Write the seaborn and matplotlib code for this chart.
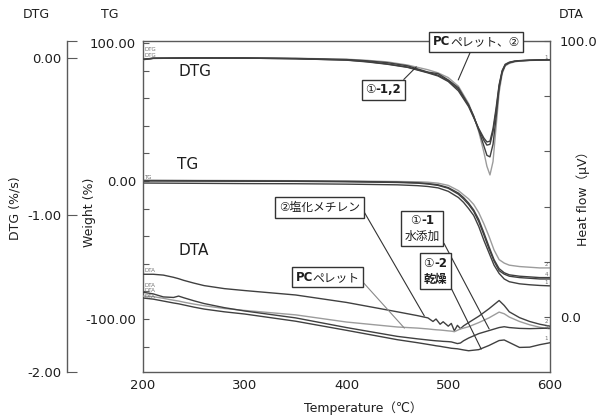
import matplotlib
matplotlib.use("Agg")
import matplotlib.pyplot as plt
from matplotlib.ticker import FixedLocator, FormatStrFormatter
from matplotlib.offsetbox import TextArea, HPacker, VPacker, AnnotationBbox
import seaborn as sns

# ---- data ----
# TG (weight %)
temp_tg = [200, 250, 300, 350, 400, 450, 470, 480, 490, 500, 510, 515, 520,
           525, 530, 535, 540, 545, 550, 555, 560, 570, 580, 590, 600]
tg_a = [0.5, 0.4, 0.3, 0.2, 0.0, -0.4, -0.6, -0.9, -1.6, -3.2, -7.0, -10.0, -13.0,
        -17.0, -23.0, -31.0, -40.0, -50.0, -57.0, -59.5, -61.0, -62.0, -62.5, -63.0, -63.0]
tg_b = [0.3, 0.2, 0.1, 0.0, -0.3, -0.8, -1.3, -1.9, -2.8, -4.8, -8.8, -12.0, -16.0,
        -21.0, -28.0, -37.5, -47.5, -57.0, -63.5, -66.5, -68.0, -69.0, -69.5, -70.0, -70.0]
tg_c = [0.0, -0.1, -0.2, -0.3, -0.6, -1.1, -1.6, -2.2, -3.2, -5.3, -9.6, -13.0, -17.0,
        -22.0, -29.5, -39.0, -49.0, -58.0, -65.0, -67.5, -69.0, -70.0, -70.5, -71.0, -71.0]
tg_d = [-1.5, -1.7, -1.9, -2.0, -2.3, -2.8, -3.4, -4.0, -5.0, -7.5, -12.0, -15.5, -20.0,
        -25.0, -33.0, -43.0, -52.0, -61.0, -67.0, -71.0, -73.0, -74.5, -75.2, -75.7, -76.0]

# DTG (%/s)
temp_dtg = [200, 210, 250, 300, 350, 400, 420, 440, 460, 480, 490, 500, 510, 520, 525,
            530, 535, 538, 541, 544, 547, 550, 553, 556, 560, 565, 570, 580, 590, 600]
dtg_1 = [-0.012, -0.002, 0.0, 0.0, -0.002, -0.008, -0.015, -0.025, -0.045, -0.075,
         -0.095, -0.125, -0.18, -0.29, -0.37, -0.47, -0.60, -0.69, -0.745, -0.66,
         -0.44, -0.22, -0.10, -0.05, -0.035, -0.025, -0.02, -0.016, -0.014, -0.013]
dtg_2 = [-0.01, -0.002, 0.0, 0.0, -0.003, -0.01, -0.018, -0.03, -0.05, -0.09,
         -0.10, -0.14, -0.19, -0.30, -0.37, -0.46, -0.56, -0.62, -0.63, -0.55,
         -0.38, -0.19, -0.09, -0.045, -0.03, -0.022, -0.018, -0.015, -0.013, -0.012]
dtg_3 = [-0.008, -0.002, 0.0, -0.001, -0.005, -0.014, -0.025, -0.04, -0.06, -0.095,
         -0.115, -0.15, -0.21, -0.31, -0.38, -0.45, -0.51, -0.535, -0.53, -0.45,
         -0.32, -0.17, -0.08, -0.04, -0.027, -0.02, -0.017, -0.014, -0.012, -0.011]
dtg_4 = [-0.01, -0.003, 0.0, -0.001, -0.005, -0.013, -0.023, -0.038, -0.058, -0.092,
         -0.11, -0.145, -0.2, -0.30, -0.375, -0.455, -0.525, -0.555, -0.55, -0.47,
         -0.34, -0.18, -0.085, -0.045, -0.03, -0.022, -0.018, -0.015, -0.013, -0.012]

# DTA (uV)
temp_dta = [200, 210, 220, 230, 235, 240, 250, 260, 280, 300, 350, 400, 450, 470, 480,
            485, 488, 492, 495, 500, 503, 506, 509, 512, 515, 520, 530, 540, 550, 555,
            560, 570, 580, 590, 600]
dta_mecl = [15.5, 15.5, 15.2, 14.4, 13.9, 13.3, 12.3, 11.4, 10.3, 9.6, 8.0, 5.3, 1.9, 0.5, -0.3,
            -1.6, -0.7, -2.6, -1.7, -3.3, -2.3, -5.0, -3.0, -4.2, -3.2, -2.0, 0.3, 3.0, 6.0, 4.2,
            1.9, -0.2, -1.6, -2.6, -3.3]
dta_pellet = [7.6, 7.4, 6.8, 6.1, 5.8, 5.4, 4.7, 4.1, 3.1, 2.4, 0.8, -1.8, -3.6, -4.0, -4.3,
              -4.5, -4.6, -4.7, -4.8, -5.0, -5.1, -5.3, -4.8, -4.3, -4.0, -3.5, -2.0, -0.3, 1.8, 1.2,
              0.0, -1.6, -2.8, -3.7, -4.3]
dta_water = [9.0, 8.4, 7.3, 7.1, 7.6, 7.0, 5.9, 4.9, 3.4, 2.2, -0.3, -3.8, -7.0, -7.9, -8.3,
             -8.5, -8.6, -8.7, -8.8, -8.9, -9.0, -9.3, -9.6, -9.4, -8.6, -7.6, -6.0, -4.9, -3.8, -3.5,
             -3.8, -4.1, -4.2, -4.1, -4.0]
dta_dry = [6.9, 6.5, 5.8, 5.1, 4.8, 4.4, 3.6, 2.9, 1.9, 1.1, -1.5, -4.8, -8.2, -9.3, -9.9,
           -10.2, -10.4, -10.6, -10.8, -11.1, -11.3, -11.4, -11.5, -11.7, -11.9, -12.2, -11.8, -10.3, -8.5, -8.3,
           -9.2, -11.0, -10.9, -10.0, -9.3]

x_ticks = [200, 300, 400, 500, 600]

dark = '#404040'
light = '#9c9c9c'
edge = '#5a5a5a'
txt = '#1e1e1e'

sns.set_theme(style="white")
plt.rcParams['font.family'] = ['DejaVu Sans', 'Noto Sans CJK JP']
plt.rcParams['axes.unicode_minus'] = False

W, H = 596, 419
fig = plt.figure(figsize=(W / 100, H / 100), dpi=100)
ax = fig.add_axes([143 / W, 1 - 372 / H, (550 - 143) / W, (372 - 41) / H])
ax_dta = ax.twinx()
ax_dtg = ax.twinx()

# curves
for vals, col in [(tg_a, light), (tg_b, dark), (tg_c, dark), (tg_d, dark)]:
    sns.lineplot(x=temp_tg, y=vals, ax=ax, color=col, linewidth=1.0)
for vals, col in [(dtg_1, light), (dtg_2, dark), (dtg_3, dark), (dtg_4, dark)]:
    sns.lineplot(x=temp_dtg, y=vals, ax=ax_dtg, color=col, linewidth=1.0)
for vals, col in [(dta_mecl, dark), (dta_pellet, light), (dta_water, dark), (dta_dry, dark)]:
    sns.lineplot(x=temp_dta, y=vals, ax=ax_dta, color=col, linewidth=1.0)

ax.set_xlim(200, 600)
ax.set_ylim(-138.4, 101.4)
ax_dta.set_ylim(-19.9, 100.0)
ax_dtg.set_ylim(-2.0, 0.108)
for a in (ax, ax_dta, ax_dtg):
    a.set_xlabel('')
    a.set_ylabel('')
    a.grid(False)

# spines
for s in ax.spines.values():
    s.set_color(edge)
    s.set_linewidth(1.0)
for s in ax_dta.spines.values():
    s.set_visible(False)
for name, s in ax_dtg.spines.items():
    s.set_visible(name == 'left')
ax_dtg.spines['left'].set_position(('axes', (67 - 143) / 407))
ax_dtg.spines['left'].set_color(edge)
ax_dtg.spines['left'].set_linewidth(1.0)

# x axis
ax.set_xticks(x_ticks)
ax.tick_params(axis='x', direction='in', length=4, width=0.8, color=edge,
               pad=5, labelsize=9.5, labelcolor=txt)

# TG axis
ax.yaxis.set_major_locator(FixedLocator([-100, 0, 100]))
ax.yaxis.set_minor_locator(FixedLocator([-120, -80, -60, -40, -20, 20, 40, 60, 80]))
ax.yaxis.set_major_formatter(FormatStrFormatter('%.2f'))
ax.tick_params(axis='y', which='both', direction='in', length=4, width=0.8,
               color=edge, pad=5, labelsize=9.5, labelcolor=txt)

# DTA axis (right)
ax_dta.yaxis.tick_right()
ax_dta.yaxis.set_major_locator(FixedLocator([0, 100]))
ax_dta.yaxis.set_minor_locator(FixedLocator([20, 40, 60, 80]))
ax_dta.yaxis.set_major_formatter(FormatStrFormatter('%.1f'))
ax_dta.tick_params(axis='y', which='both', direction='in', length=4, width=0.8,
                   color=edge, pad=7, labelsize=9.5, labelcolor=txt)

# DTG axis (outer left)
ax_dtg.yaxis.tick_left()
ax_dtg.yaxis.set_major_locator(FixedLocator([-2, -1, 0]))
ax_dtg.yaxis.set_minor_locator(FixedLocator([0.108]))
ax_dtg.yaxis.set_major_formatter(FormatStrFormatter('%.2f'))
ax_dtg.tick_params(axis='y', which='both', direction='in', length=7, width=0.8,
                   color=edge, pad=4, labelsize=9.5, labelcolor=txt)

# axis titles
fig.text(36 / W, 1 - 15 / H, 'DTG', ha='center', va='center', fontsize=9, color=txt)
fig.text(110 / W, 1 - 15 / H, 'TG', ha='center', va='center', fontsize=9, color=txt)
fig.text(571 / W, 1 - 15 / H, 'DTA', ha='center', va='center', fontsize=9, color=txt)
fig.text(15 / W, 1 - 208 / H, 'DTG (%/s)', rotation=90, ha='center', va='center',
         fontsize=9, color=txt)
fig.text(89 / W, 1 - 212 / H, 'Weight (%)', rotation=90, ha='center', va='center',
         fontsize=9, color=txt)
fig.text(583 / W, 1 - 195 / H, 'Heat flow（μV）', rotation=90, ha='center', va='center',
         fontsize=9, color=txt)
fig.text(363 / W, 1 - 408 / H, 'Temperature（℃）', ha='center', va='center',
         fontsize=9, color=txt)

# curve group names
ax_dtg.text(251, -0.089, 'DTG', ha='center', va='center', fontsize=11, color=txt)
ax.text(244, 11.6, 'TG', ha='center', va='center', fontsize=11, color=txt)
ax_dta.text(250, 24.2, 'DTA', ha='center', va='center', fontsize=11, color=txt)

# tiny instrument labels
tiny = dict(fontsize=4, color='#707070', ha='left', va='bottom')
ax_dtg.text(201, 0.04, 'DTG', **tiny)
ax_dtg.text(201, 0.0, 'DTG', **tiny)
ax.text(201, 0.8, 'TG', **tiny)
ax_dta.text(201, 15.8, 'DTA', **tiny)
for v in (10.6, 8.6, 6.6):
    ax_dta.text(201, v, 'DTA', **tiny)
tiny_r = dict(fontsize=4, color='#707070', ha='right', va='bottom')
ax.text(598, -62.5, '2', **tiny_r)
ax.text(598, -69.5, '4', **tiny_r)
ax.text(598, -75.5, '1', **tiny_r)
ax_dta.text(598, -2.6, '2', **tiny_r)
ax_dta.text(598, -4.6, '4', **tiny_r)
ax_dta.text(598, -8.8, '1', **tiny_r)
ax_dtg.text(598, -0.01, '1', **tiny_r)


# callout boxes with mixed bold / normal text
def text_row(parts):
    return HPacker(children=[TextArea(t, textprops=dict(fontsize=8.5, fontweight=w, color=txt))
                             for t, w in parts], align='baseline', pad=0, sep=0)


def callout(a, lines, xy, xybox, relpos, col='#333333'):
    rows = [text_row(p) for p in lines]
    content = rows[0] if len(rows) == 1 else VPacker(children=rows, align='center', pad=0, sep=2)
    ab = AnnotationBbox(content, xy, xybox=xybox, xycoords='data', boxcoords='data',
                        box_alignment=(0.5, 0.5), pad=0.35, fontsize=8.5,
                        bboxprops=dict(boxstyle='square', fc='white', ec='#333333', lw=1.0),
                        arrowprops=dict(arrowstyle='-', color=col, lw=0.8, relpos=relpos,
                                        shrinkA=0, shrinkB=0),
                        annotation_clip=False)
    a.add_artist(ab)


callout(ax_dtg, [[('PC', 'bold'), ('ペレット、②', 'normal')]],
        (509.8, -0.14), (527.5, 0.102), (0.45, 0.0))
callout(ax_dtg, [[('①', 'normal'), ('-1,2', 'bold')]],
        (468.6, -0.057), (436.3, -0.204), (0.95, 1.0))
callout(ax_dta, [[('②塩化メチレン', 'normal')]],
        (476.5, 0.4), (373.5, 39.7), (1.0, 0.7))
callout(ax_dta, [[('①', 'normal'), ('-1', 'bold')], [('水添加', 'normal')]],
        (540.2, -4.3), (474.5, 32.1), (1.0, 0.25))
callout(ax_dta, [[('①', 'normal'), ('-2', 'bold')], [('乾燥', 'bold')]],
        (532.4, -11.6), (487.3, 16.6), (1.0, 0.2))
callout(ax_dta, [[('PC', 'bold'), ('ペレット', 'normal')]],
        (456.9, -4.0), (381.4, 14.4), (1.0, 0.4), col='#888888')

fig.savefig('out.png', dpi=100)
